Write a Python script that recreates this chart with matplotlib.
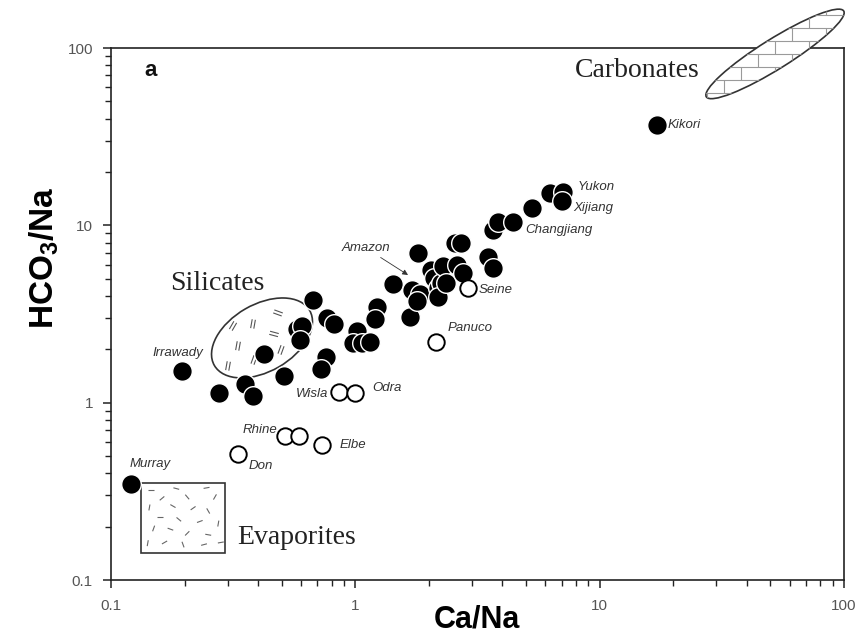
import numpy as np
import matplotlib
matplotlib.use('Agg')
import matplotlib.pyplot as plt
import matplotlib.transforms as mtransforms
from matplotlib.patches import Ellipse, Rectangle
from matplotlib.collections import LineCollection
from matplotlib.ticker import LogLocator, NullFormatter

plt.rcParams['font.family'] = ['Liberation Sans', 'DejaVu Sans']
plt.rcParams['mathtext.fontset'] = 'custom'
plt.rcParams['mathtext.rm'] = 'Liberation Sans:bold'
plt.rcParams['mathtext.bf'] = 'Liberation Sans:bold'

# filled circles: Ca/Na vs HCO3/Na
ca_na = [0.121, 0.195, 0.277, 0.354, 0.381, 0.423, 0.511, 0.577, 0.605, 0.594,
         0.671, 0.766, 0.818, 0.759, 0.724, 1.016, 0.978, 1.065, 1.148, 1.227,
         1.204, 1.426, 1.674, 1.805, 1.706, 1.839, 1.788, 2.04, 2.099, 2.18,
         2.242, 2.18, 2.285, 2.35, 2.558, 2.707, 2.607, 2.759, 3.49, 3.66,
         3.66, 3.837, 4.418, 5.286, 6.26, 7.08, 7.01, 17.17]
hco3_na = [0.348, 1.509, 1.134, 1.275, 1.091, 1.883, 1.414, 2.604, 2.707, 2.257,
           3.795, 3.004, 2.779, 1.81, 1.549, 2.538, 2.171, 2.171, 2.2, 3.466,
           2.966, 4.673, 3.044, 6.99, 4.322, 4.103, 3.746, 5.605, 5.05, 4.436,
           4.733, 3.947, 5.902, 4.733, 7.96, 7.96, 5.978, 5.388, 6.635, 5.75,
           9.42, 10.45, 10.45, 12.54, 15.23, 15.43, 13.73, 36.85]

# open circles (polluted rivers)
ca_na_open = [2.892, 2.139, 0.857, 0.997, 0.515, 0.588, 0.730, 0.331]
hco3_na_open = [4.436, 2.2, 1.149, 1.134, 0.649, 0.649, 0.577, 0.514]

# river names and the point each one marks
names = ['Murray', 'Irrawady', 'Wisla', 'Odra', 'Rhine', 'Elbe', 'Don', 'Panuco',
         'Seine', 'Changjiang', 'Xijiang', 'Yukon', 'Kikori']
name_x = [0.121, 0.195, 0.857, 0.997, 0.515, 0.730, 0.331, 2.139,
          2.892, 4.418, 7.01, 7.08, 17.17]
name_y = [0.348, 1.509, 1.149, 1.134, 0.649, 0.577, 0.514, 2.2,
          4.436, 10.45, 13.73, 15.43, 36.85]
# label offsets in pixels (right, up) and alignment
name_dx = [-2, -4, -11, 17, -8, 18, 11, 12, 11, 12, 11, 15, 11]
name_dy = [20, 18, -2, 5, 6, 0, -12, 14, -2, -8, -7, 5, 0]
name_ha = ['left', 'center', 'right', 'left', 'right', 'left', 'left', 'left',
           'left', 'left', 'left', 'left', 'left']

amazon_x, amazon_y = 1.643, 5.25

# end-member fields (centres in data units)
sil_x, sil_y = 0.415, 2.317
carb_x, carb_y = 52.2, 92.6
evap_x = [0.1327, 0.2928]
evap_y = [0.142, 0.3525]

fig = plt.figure(figsize=(8.61, 6.4), dpi=100)
ax = fig.add_axes([111 / 861, 1 - 580 / 640, 733 / 861, 532 / 640])
ax.set_xscale('log')
ax.set_yscale('log')
ax.set_xlim(0.1, 100)
ax.set_ylim(0.1, 100)

for s in ax.spines.values():
    s.set_linewidth(1.2)
    s.set_color('#222222')

ax.set_xticks([0.1, 1, 10, 100])
ax.set_xticklabels(['0.1', '1', '10', '100'])
ax.set_yticks([0.1, 1, 10, 100])
ax.set_yticklabels(['0.1', '1', '10', '100'])
ax.xaxis.set_minor_locator(LogLocator(base=10, subs=np.arange(2, 10)))
ax.yaxis.set_minor_locator(LogLocator(base=10, subs=np.arange(2, 10)))
ax.xaxis.set_minor_formatter(NullFormatter())
ax.yaxis.set_minor_formatter(NullFormatter())
ax.tick_params(which='major', direction='out', length=6, width=1.1, color='#222222',
               labelsize=11, labelcolor='#555555', top=False, right=False)
ax.tick_params(axis='x', which='major', pad=8)
ax.tick_params(axis='y', which='major', pad=7)
ax.tick_params(which='minor', direction='out', length=4, width=1.0, color='#222222',
               top=False, right=False)

px = mtransforms.Affine2D().scale(1 / 100.0) + fig.dpi_scale_trans


def local(x, y):
    # pixel units around a data point
    return px + mtransforms.ScaledTranslation(x, y, ax.transData)


# Silicates field
t = local(sil_x, sil_y)
ell = Ellipse((0, 0), 110, 67, angle=30, transform=t, fill=False, lw=1.2,
              ec='#333333', zorder=2)
ax.add_patch(ell)
marks = [(16, 25, -20), (-9, 14, 80), (-29, 12, 60), (12, 4, -15), (-24, -8, 80),
         (-8, -22, 70), (19, -12, 70), (-34, -28, 80)]
segs = []
for mx, my, a in marks:
    r = np.deg2rad(a)
    d = np.array([np.cos(r), np.sin(r)]) * 4.5
    n = np.array([-np.sin(r), np.cos(r)]) * 1.6
    for k in (-1, 1):
        c = np.array([mx, my]) + k * n
        segs.append([c - d, c + d])
ax.add_collection(LineCollection(segs, transform=t, colors='#555555', lw=0.8, zorder=2))
ax.text(0.1453, 0.558, 'Silicates', transform=ax.transAxes, ha='center', va='center',
        fontsize=20, family='Liberation Serif', color='#222222')

# Carbonates field
t = local(carb_x, carb_y)
ell = Ellipse((0, 0), 162, 30, angle=32, transform=t, fc='white', lw=1.2,
              ec='#333333', zorder=3, clip_on=False)
ax.add_patch(ell)
segs = []
rows = np.arange(-52, 53, 13)
for i, yy in enumerate(rows):
    segs.append([(-95, yy), (95, yy)])
    for xx in np.arange(-102 + (i % 2) * 17, 103, 34):
        segs.append([(xx, yy), (xx, yy + 13)])
bricks = LineCollection(segs, transform=t, colors='#9a9a9a', lw=0.8, zorder=3)
bricks.set_clip_path(ell)
ax.add_collection(bricks)
ax.text(0.8035, 0.9586, 'Carbonates', transform=ax.transAxes, ha='right', va='center',
        fontsize=20, family='Liberation Serif', color='#222222')

# Evaporites field
ax.add_patch(Rectangle((evap_x[0], evap_y[0]), evap_x[1] - evap_x[0], evap_y[1] - evap_y[0],
                       fill=False, lw=1.2, ec='#333333', zorder=2))
dashes = [(0.12, 0.10, 0), (0.42, 0.08, -15), (0.78, 0.07, 10), (0.25, 0.22, 40),
          (0.55, 0.20, -50), (0.88, 0.20, 60), (0.10, 0.35, 80), (0.38, 0.33, -30),
          (0.62, 0.36, 35), (0.80, 0.40, -60), (0.22, 0.48, 0), (0.45, 0.52, -40),
          (0.70, 0.55, 20), (0.92, 0.58, 80), (0.15, 0.65, 70), (0.35, 0.66, -20),
          (0.55, 0.72, 45), (0.80, 0.74, -10), (0.28, 0.85, 30), (0.50, 0.88, -70),
          (0.75, 0.88, 15), (0.08, 0.86, 80), (0.95, 0.85, 10)]
t = local(evap_x[0], evap_y[1])
segs = []
for u, v, a in dashes:
    r = np.deg2rad(a)
    d = np.array([np.cos(r), np.sin(r)]) * 3
    c = np.array([u * 84, -v * 70])
    segs.append([c - d, c + d])
ax.add_collection(LineCollection(segs, transform=t, colors='#666666', lw=0.8, zorder=2))
ax.text(0.1719, 0.079, 'Evaporites', transform=ax.transAxes, ha='left', va='center',
        fontsize=20, family='Liberation Serif', color='#222222')

# data
ax.scatter(ca_na, hco3_na, s=200, c='black', edgecolors='white', linewidths=1.0, zorder=5)
ax.scatter(ca_na_open, hco3_na_open, s=140, c='white', edgecolors='black', linewidths=1.4,
           zorder=5)

for nm, x, y, dx, dy, ha in zip(names, name_x, name_y, name_dx, name_dy, name_ha):
    ax.annotate(nm, (x, y), xytext=(dx * 0.72, dy * 0.72), textcoords='offset points',
                ha=ha, va='center', fontsize=9.5, style='italic', color='#333333', zorder=6)
ax.annotate('Amazon', (amazon_x, amazon_y), xytext=(-18 * 0.72, 27 * 0.72),
            textcoords='offset points', ha='right', va='center', fontsize=9.5,
            style='italic', color='#333333',
            arrowprops=dict(arrowstyle='-|>', lw=0.6, color='#333333',
                            mutation_scale=8, shrinkA=1, shrinkB=0))

ax.text(0.046, 0.9586, 'a', transform=ax.transAxes, ha='left', va='center',
        fontsize=16, fontweight='bold', color='#111111')

fig.text(477 / 861, 1 - 620 / 640, 'Ca/Na', ha='center', va='center',
         fontsize=22, fontweight='bold')
fig.text(44 / 861, 1 - 258 / 640, r'HCO$_{3}$/Na', ha='center', va='center',
         fontsize=24, fontweight='bold', rotation=90)

fig.savefig('out.png', dpi=100)
